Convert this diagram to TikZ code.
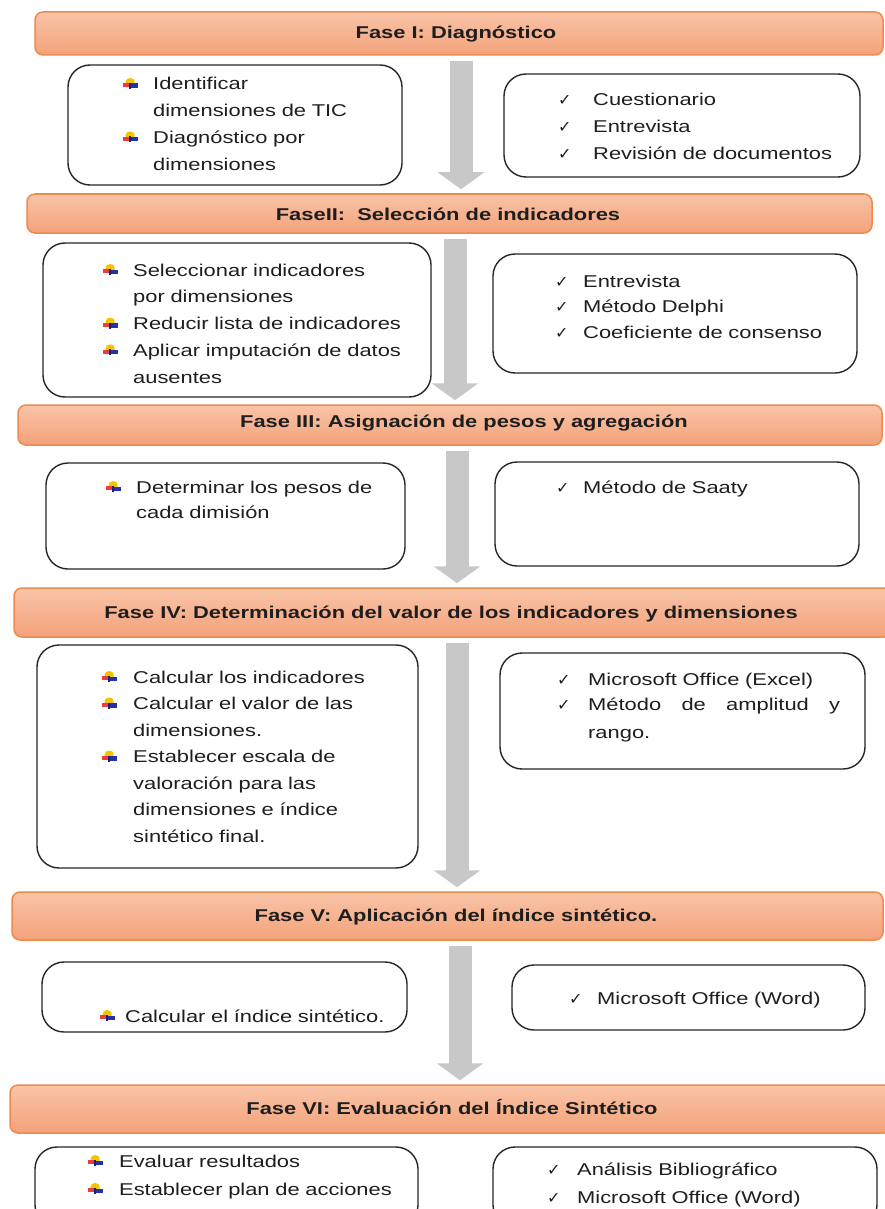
\documentclass[tikz,border=0pt]{standalone}
\usepackage{fontspec}
\setmainfont{Liberation Sans}[FakeStretch=1.28]
\newfontfamily\symf{DejaVu Sans}
\usetikzlibrary{arrows.meta}

\definecolor{barTop}{HTML}{F9C4A8}
\definecolor{barBot}{HTML}{F3A27A}
\definecolor{barLine}{HTML}{EE8A4F}
\definecolor{arrowGray}{HTML}{C8C8C8}
\definecolor{boxLine}{HTML}{262626}
\definecolor{ink}{HTML}{1E1E1E}
\definecolor{bulY}{HTML}{F5C400}
\definecolor{bulR}{HTML}{EE3B3B}
\definecolor{bulB}{HTML}{2330A8}

% picture bullet: small yellow / red / blue glyph
\newcommand\bul{\tikz[x=1pt,y=1pt,baseline=0pt]{%
  \fill[bulY] (2.5,6) -- (2.5,8.5) arc (180:0:4.5 and 3.5) -- (11.5,6) -- cycle;
  \fill[bulR] (0,2.8) rectangle (7,6.8);
  \fill[bulB] (7,2) rectangle (14.5,6.5);
  \fill[bulB!70!black] (6,1) rectangle (8,7);}}
\newcommand\chk{{\symf\fontsize{16}{16}\selectfont ✓}}
\newcommand\bi[1]{\makebox[#1][l]{\bul}}
\newcommand\ci[1]{\makebox[#1][l]{\chk}}

\begin{document}
\begin{tikzpicture}[x=1pt,y=-1pt,
  phase/.style={rectangle, rounded corners=8pt, draw=barLine, line width=1.5pt,
    top color=barTop, bottom color=barBot, inner sep=0pt},
  phasetext/.style={anchor=base, inner sep=0pt, text=ink,
    font=\fontsize{17.1}{20}\selectfont\bfseries},
  itembox/.style={rectangle, rounded corners=22pt, draw=boxLine, line width=1.4pt,
    fill=white, inner sep=0pt},
  list/.style={anchor=base west, inner sep=0pt, text=ink, text width=420pt,
    align=left, font=\fontsize{17.1}{#1}\selectfont},
  list/.default=26.5pt,
  flow/.style={draw=arrowGray, line width=23pt,
    -{Triangle[width=46pt,length=17pt]}, shorten <=5pt, shorten >=4pt}]

\fill[white] (0,0) rectangle (885,1209);
\useasboundingbox (0,0) rectangle (885,1209);
\clip (0,0) rectangle (885,1209);

% phase bars
\node[phase, minimum width=848pt, minimum height=43pt] (b1) at (459,33.5) {};
\node[phase, minimum width=845pt, minimum height=39pt] (b2) at (449.5,213.5) {};
\node[phase, minimum width=864pt, minimum height=40pt] (b3) at (450,425) {};
\node[phase, minimum width=878pt, minimum height=49pt] (b4) at (453,612.5) {};
\node[phase, minimum width=871pt, minimum height=48pt] (b5) at (447.5,916) {};
\node[phase, minimum width=882pt, minimum height=48pt] (b6) at (451,1109) {};

\node[phasetext] (h1) at (456,39) {Fase I: Diagnóstico};
\node[phasetext] (h2) at (448,220) {FaseII:\ \ Selección de indicadores};
\node[phasetext] (h3) at (464,427) {Fase III: Asignación de pesos y agregación};
\node[phasetext] (h4) at (451,618) {Fase IV: Determinación del valor de los indicadores y dimensiones};
\node[phasetext] (h5) at (456,921) {Fase V: Aplicación del índice sintético.};
\node[phasetext] (h6) at (452,1114) {Fase VI: Evaluación del Índice Sintético};

% flow arrows between phases
\coordinate (a1) at (461,0);
\coordinate (a2) at (455,0);
\coordinate (a3) at (457,0);
\coordinate (a4) at (457,0);
\coordinate (a5) at (460,0);
\draw[flow] (b1.south -| a1) -- (b2.north -| a1);
\draw[flow] (b2.south -| a2) -- (b3.north -| a2);
\draw[flow] (b3.south -| a3) -- (b4.north -| a3);
\draw[flow] (b4.south -| a4) -- (b5.north -| a4);
\draw[flow] (b5.south -| a5) -- (b6.north -| a5);

% activity and tool boxes
\node[itembox, minimum width=334pt, minimum height=120pt] (l1) at (235,125) {};
\node[itembox, minimum width=356pt, minimum height=103pt] (r1) at (682,125.5) {};
\node[itembox, minimum width=388pt, minimum height=154pt] (l2) at (237,320) {};
\node[itembox, minimum width=364pt, minimum height=119pt] (r2) at (675,313.5) {};
\node[itembox, minimum width=359pt, minimum height=106pt] (l3) at (225.5,516) {};
\node[itembox, minimum width=364pt, minimum height=104pt] (r3) at (677,514) {};
\node[itembox, minimum width=381pt, minimum height=223pt] (l4) at (227.5,756.5) {};
\node[itembox, minimum width=365pt, minimum height=116pt] (r4) at (682.5,711) {};
\node[itembox, minimum width=365pt, minimum height=70pt] (l5) at (224.5,997) {};
\node[itembox, minimum width=353pt, minimum height=65pt] (r5) at (688.5,997.5) {};
\node[itembox, minimum width=383pt, minimum height=80pt] (l6) at (226.5,1187) {};
\node[itembox, minimum width=384pt, minimum height=80pt] (r6) at (685,1187) {};

% box contents
\node[list=26.7pt] (t1l) at (123,90) {%
  \bi{30pt}Identificar\\
  \hspace*{30pt}dimensiones de TIC\\
  \bi{30pt}Diagnóstico por\\
  \hspace*{30pt}dimensiones};
\node[list=27pt] (t1r) at (558,106) {%
  \ci{35pt}Cuestionario\\
  \ci{35pt}Entrevista\\
  \ci{35pt}Revisión de documentos};

\node[list=26.8pt] (t2l) at (103,276) {%
  \bi{30pt}Seleccionar indicadores\\
  \hspace*{30pt}por dimensiones\\
  \bi{30pt}Reducir lista de indicadores\\
  \bi{30pt}Aplicar imputación de datos\\
  \hspace*{30pt}ausentes};
\node[list=25.5pt] (t2r) at (555,287) {%
  \ci{28pt}Entrevista\\
  \ci{28pt}Método Delphi\\
  \ci{28pt}Coeficiente de consenso};

\node[list=25pt] (t3l) at (106,493) {%
  \bi{30pt}Determinar los pesos de\\
  \hspace*{30pt}cada dimisión};
\node[list] (t3r) at (556,493) {%
  \ci{27pt}Método de Saaty};

\node[list=26.5pt] (t4l) at (102,683) {%
  \bi{31pt}Calcular los indicadores\\
  \bi{31pt}Calcular el valor de las\\
  \hspace*{31pt}dimensiones.\\
  \bi{31pt}Establecer escala de\\
  \hspace*{31pt}valoración para las\\
  \hspace*{31pt}dimensiones e índice\\
  \hspace*{31pt}sintético final.};
\node[list=25pt] (t4r) at (557,685) {%
  \ci{31pt}Microsoft Office (Excel)\\
  \ci{31pt}\makebox[252pt][l]{Método\hfill de\hfill amplitud\hfill y}\\[3pt]
  \hspace*{31pt}rango.};

\node[list] (t5l) at (100,1022) {%
  \bi{25pt}Calcular el índice sintético.};
\node[list] (t5r) at (569,1004) {%
  \ci{28pt}Microsoft Office (Word)};

\node[list=28pt] (t6l) at (88,1167) {%
  \bi{31pt}Evaluar resultados\\
  \bi{31pt}Establecer plan de acciones};
\node[list=28pt] (t6r) at (547,1175) {%
  \ci{30pt}Análisis Bibliográfico\\
  \ci{30pt}Microsoft Office (Word)};

\end{tikzpicture}
\end{document}
